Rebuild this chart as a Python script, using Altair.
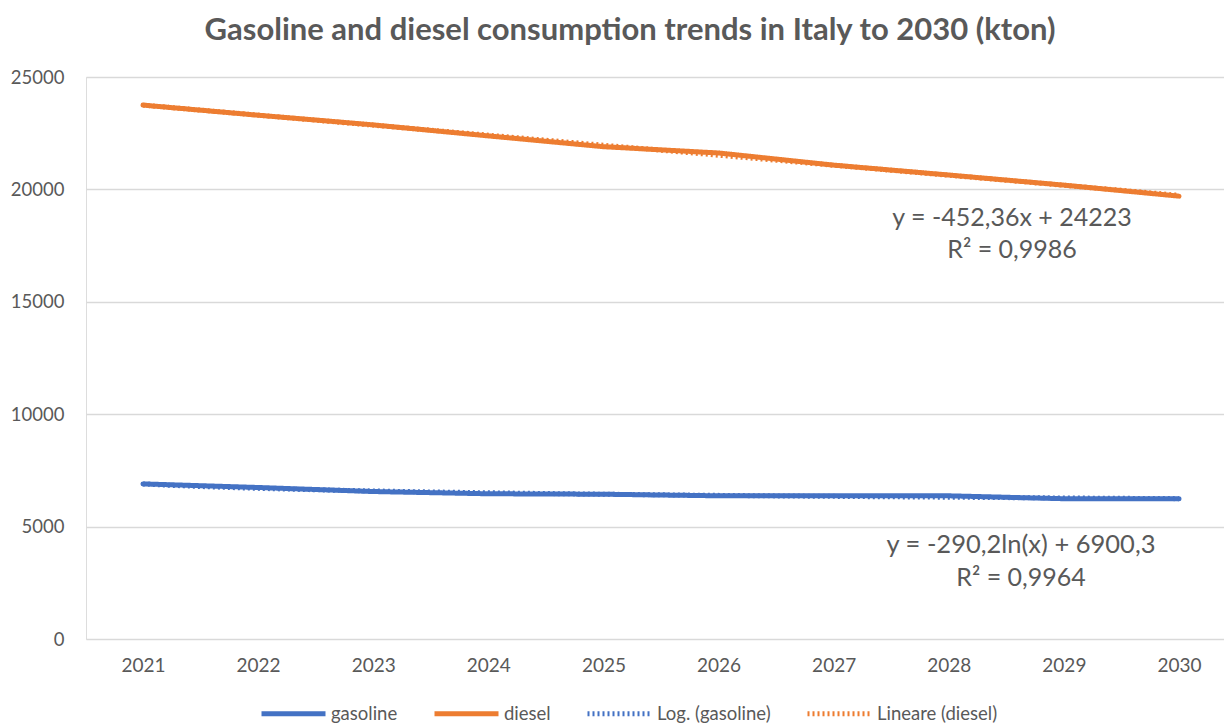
import altair as alt
import pandas as pd

years = [2021, 2022, 2023, 2024, 2025, 2026, 2027, 2028, 2029, 2030]
gasoline = [6900, 6740, 6560, 6460, 6440, 6370, 6370, 6370, 6240, 6240]
diesel = [23750, 23300, 22870, 22380, 21900, 21620, 21080, 20640, 20190, 19700]
series_names = ["gasoline", "diesel", "Log. (gasoline)", "Lineare (diesel)"]
series_colors = ["#4472C4", "#ED7D31", "#4472C4", "#ED7D31"]
eq_diesel = ["y = -452,36x + 24223", "R² = 0,9986"]
eq_gasoline = ["y = -290,2ln(x) + 6900,3", "R² = 0,9964"]
title_text = "Gasoline and diesel consumption trends in Italy to 2030 (kton)"

rows = []
for i, y in enumerate(years):
    rows.append({"year": y, "idx": i + 1, "value": gasoline[i], "series": "gasoline"})
    rows.append({"year": y, "idx": i + 1, "value": diesel[i], "series": "diesel"})
df = pd.DataFrame(rows)

FONT = "Lato"
TXT = "#595959"

x_scale = alt.Scale(domain=[2020.505, 2030.391], nice=False, zero=False)
y_scale = alt.Scale(domain=[0, 25000], nice=False)

x_axis = alt.Axis(values=years, format="d", grid=False, domain=False, ticks=False,
                  labelFont=FONT, labelFontSize=19, labelColor=TXT, labelPadding=17, title=None)
y_axis = alt.Axis(values=[0, 5000, 10000, 15000, 20000, 25000], format="d", grid=True,
                  gridColor="#D9D9D9", gridWidth=1.3, domain=False, ticks=False,
                  labelFont=FONT, labelFontSize=18.5, labelColor=TXT, labelPadding=22, title=None)

color = alt.Color("series:N", scale=alt.Scale(domain=series_names, range=series_colors),
                  legend=alt.Legend(title=None, orient="none", direction="horizontal",
                                    legendX=173, legendY=602, symbolType="stroke",
                                    symbolSize=4096, labelFont=FONT, labelFontSize=18.5,
                                    labelColor=TXT, columnPadding=26, labelOffset=3))
dash = alt.StrokeDash("series:N", scale=alt.Scale(domain=series_names,
                      range=[[1, 0], [1, 0], [2, 3], [2, 3]]), legend=alt.Legend(title=None))
width = alt.StrokeWidth("series:N", scale=alt.Scale(domain=series_names, range=[5, 5, 2, 2]),
                        legend=alt.Legend(title=None))

base = alt.Chart(df)

trend_gas = base.transform_filter(alt.datum.series == "gasoline").transform_regression(
    "idx", "value", method="log"
).transform_calculate(year="datum.idx + 2020", series="'Log. (gasoline)'").mark_line().encode(
    x=alt.X("year:Q", scale=x_scale, axis=x_axis),
    y=alt.Y("value:Q", scale=y_scale, axis=y_axis),
    color=color, strokeDash=dash, strokeWidth=width,
)
trend_dsl = base.transform_filter(alt.datum.series == "diesel").transform_regression(
    "idx", "value", method="linear"
).transform_calculate(year="datum.idx + 2020", series="'Lineare (diesel)'").mark_line().encode(
    x=alt.X("year:Q", scale=x_scale, axis=x_axis),
    y=alt.Y("value:Q", scale=y_scale, axis=y_axis),
    color=color, strokeDash=dash, strokeWidth=width,
)
lines = base.mark_line(strokeCap="round", strokeJoin="round").encode(
    x=alt.X("year:Q", scale=x_scale, axis=x_axis),
    y=alt.Y("value:Q", scale=y_scale, axis=y_axis),
    color=color, strokeDash=dash, strokeWidth=width,
    detail="series:N",
)

last = pd.DataFrame({"year": [years[-1]], "gas": [gasoline[-1]], "dsl": [diesel[-1]]})
ann = alt.Chart(last)
def label(text, field, dx, dy, size):
    return ann.mark_text(text=text, font=FONT, fontSize=size, color=TXT, align="center",
                         baseline="middle", dx=dx, dy=dy).encode(
        x=alt.X("year:Q", scale=x_scale), y=alt.Y(f"{field}:Q", scale=y_scale))

texts = (label(eq_diesel[0], "dsl", -167, 22, 25) + label(eq_diesel[1], "dsl", -167, 54, 25)
         + label(eq_gasoline[0], "gas", -158, 46, 25.5) + label(eq_gasoline[1], "gas", -158, 79, 25))

chart = alt.layer(trend_gas, trend_dsl, lines, texts).properties(
    width=1138, height=562,
    title=alt.TitleParams(title_text, font=FONT, fontSize=31, fontWeight="bold", color=TXT,
                          anchor="middle", dx=-25, offset=21),
    padding={"left": 86, "top": 77, "right": 0, "bottom": 85},
    autosize=alt.AutoSizeParams(type="none"),
).configure_view(stroke=None).configure(background="white")

chart.save("out.html", embed_options={"renderer": "svg", "actions": False})
